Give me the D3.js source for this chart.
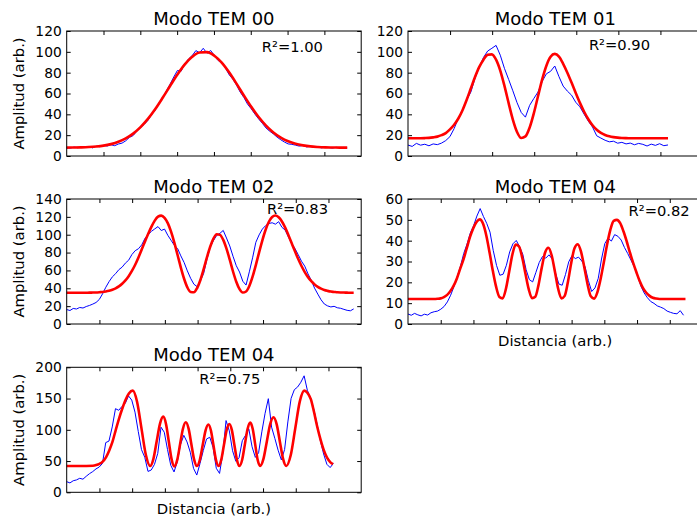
<!DOCTYPE html>
<html>
<head>
<meta charset="utf-8">
<script src="https://cdn.jsdelivr.net/npm/d3@7"></script>
<style>
  body { margin: 0; background: #fff; }
  svg { display: block; font-family: "DejaVu Sans", sans-serif; }
</style>
</head>
<body>
<div id="chart"></div>
<script>
// titles and fit scores
const titles = ["Modo TEM 00", "Modo TEM 01", "Modo TEM 02", "Modo TEM 04", "Modo TEM 04"];
const r2Labels = ["R²=1.00", "R²=0.90", "R²=0.83", "R²=0.82", "R²=0.75"];
const yLabel = "Amplitud (arb.)";
const xLabel = "Distancia (arb.)";

// y tick values per panel
const yTicks00 = [0, 20, 40, 60, 80, 100, 120];
const yTicks01 = [0, 20, 40, 60, 80, 100, 120];
const yTicks02 = [0, 20, 40, 60, 80, 100, 120, 140];
const yTicks04a = [0, 10, 20, 30, 40, 50, 60];
const yTicks04b = [0, 50, 100, 150, 200];

// measured profiles (blue) and fits (red), evenly spaced along x
const blue00 = [8.0, 7.5, 8.6, 7.9, 8.8, 8.2, 9.1, 7.8, 9.4, 8.9, 10.2, 9.6, 10.8, 9.9, 11.5, 12.4,
  14.6, 17.9, 19.6, 23.8, 27.1, 30.4, 34.2, 39.6, 44.1, 50.8, 55.7, 62.4, 68.9, 75.8, 82.1, 81.4,
  88.6, 93.1, 96.4, 101.2, 99.1, 103.4, 98.6, 101.3, 96.5, 91.7, 90.2, 84.6, 78.1, 73.8, 68.2,
  61.4, 56.2, 49.8, 45.3, 40.2, 35.6, 31.4, 26.9, 23.8, 21.2, 18.1, 15.6, 13.4, 11.6, 11.2, 10.4,
  9.5, 10.1, 8.7, 9.3, 8.4, 8.9, 7.8, 8.5, 8.1, 7.6, 8.4, 7.9, 8.2, 7.8];
const red00 = [8.07, 8.15, 8.3, 8.6, 9.1, 9.95, 11.4, 13.6, 16.9, 21.5, 27.7, 35.6, 45.1, 55.9,
  67.2, 78.2, 87.9, 95.2, 99.3, 99.7, 96.3, 89.6, 80.3, 69.5, 58.1, 47.2, 37.4, 29.2, 22.6, 17.7,
  14.1, 11.7, 10.2, 9.2, 8.65, 8.3, 8.17, 8.08, 8.04];

const blue01 = [10.5, 9.2, 12.1, 10.4, 11.3, 9.8, 11.6, 10.9, 12.4, 14.8, 18.6, 26.3, 36.1, 44.2,
  53.8, 61.5, 74.9, 85.3, 94.6, 100.8, 103.4, 106.2, 96.8, 84.1, 73.5, 62.6, 51.2, 41.8, 37.3,
  48.6, 55.2, 61.4, 71.6, 78.9, 81.3, 86.4, 76.2, 67.1, 62.3, 58.4, 51.6, 47.2, 40.1, 33.5, 27.8,
  19.4, 17.2, 15.1, 13.6, 14.2, 12.3, 13.1, 11.6, 12.4, 10.8, 12.1, 11.2, 9.6, 11.4, 10.2, 11.8,
  9.9, 10.6];
const red01 = [17.0, 17.0, 17.05, 17.1, 17.2, 17.4, 17.9, 18.6, 20.0, 22.0, 25.5, 30.0, 36.0, 44.0,
  54.0, 65.0, 76.0, 85.5, 92.5, 97.1, 97.6, 92.5, 82.0, 67.3, 50.7, 35.0, 23.1, 17.3, 18.8, 27.2,
  40.9, 57.3, 73.5, 86.7, 95.2, 98.0, 95.4, 88.5, 80.0, 70.5, 60.5, 51.0, 42.5, 35.3, 29.5, 25.2,
  22.2, 20.2, 18.9, 18.1, 17.6, 17.3, 17.15, 17.05, 17.0, 17.0, 17.0, 17.0, 17.0, 17.0, 17.0,
  17.0, 17.0];

const blue02 = [16.2, 15.1, 17.4, 16.8, 18.5, 17.9, 19.6, 20.8, 22.3, 24.1, 27.5, 33.8, 41.2, 47.5,
  52.8, 56.4, 60.9, 63.7, 68.2, 71.5, 77.8, 82.1, 84.3, 88.6, 95.9, 100.2, 103.8, 106.5, 109.1,
  104.7, 106.3, 99.4, 93.8, 88.2, 84.6, 76.3, 68.9, 59.5, 51.2, 44.6, 41.8, 48.3, 56.7, 72.4, 86.1,
  93.5, 99.2, 101.6, 104.8, 96.3, 87.4, 75.9, 65.3, 58.2, 47.9, 43.6, 58.4, 74.1, 91.5, 99.8,
  106.3, 110.2, 112.6, 113.4, 111.8, 114.6, 108.3, 105.1, 97.4, 90.2, 84.5, 77.6, 70.3, 64.8, 56.1,
  48.9, 40.2, 33.5, 27.1, 22.4, 20.3, 19.1, 19.8, 18.2, 17.6, 16.4, 15.3, 14.8, 16.9];
const red02 = [35.0, 35.0, 35.0, 35.0, 35.0, 35.0, 35.05, 35.1, 35.2, 35.35, 35.6, 35.9, 36.5, 37.3,
  38.4, 40.0, 42.1, 45.0, 48.8, 53.6, 59.4, 66.3, 74.5, 83.4, 92.4, 101.0, 109.0, 115.8, 120.2,
  121.4, 118.9, 113.0, 103.4, 91.2, 77.3, 63.2, 50.7, 41.0, 35.8, 35.5, 40.3, 49.3, 61.4, 74.5,
  86.5, 95.7, 100.5, 99.8, 94.2, 84.4, 72.0, 58.8, 47.3, 39.0, 35.2, 36.4, 42.6, 53.0, 66.0, 80.2,
  93.7, 105.5, 114.5, 119.9, 121.5, 119.5, 114.8, 107.9, 99.5, 90.4, 81.4, 72.7, 65.0, 58.2, 52.5,
  48.0, 44.4, 41.6, 39.6, 38.1, 37.1, 36.3, 35.9, 35.5, 35.3, 35.2, 35.1, 35.0, 35.0];

const blue04a = [4.8, 4.2, 5.1, 4.4, 3.9, 4.7, 4.3, 5.4, 5.9, 6.2, 7.1, 8.4, 10.6, 13.8, 17.9, 22.6,
  27.8, 33.9, 38.4, 43.7, 47.2, 51.8, 55.4, 51.6, 48.3, 44.1, 35.2, 28.1, 23.4, 23.9, 28.2, 34.6,
  38.5, 40.1, 37.2, 33.4, 26.1, 21.3, 20.2, 24.8, 29.5, 32.4, 31.6, 33.2, 31.1, 24.3, 19.2, 18.6,
  23.7, 29.8, 32.9, 31.4, 32.1, 30.2, 27.4, 20.8, 15.6, 17.3, 21.9, 31.2, 38.6, 41.2, 39.8, 42.9,
  42.1, 40.3, 36.7, 33.8, 30.6, 27.4, 23.1, 18.2, 14.9, 12.6, 10.8, 9.9, 8.7, 8.1, 7.4, 6.2, 5.6,
  5.1, 4.9, 6.4, 4.2];
const red04a = [12, 12, 12, 12, 12, 12, 12, 12, 12, 12.1, 12.3, 12.9, 14.0, 15.8, 18.4, 22.0, 26.6,
  31.0, 36.4, 41.8, 46.0, 49.0, 50.2, 48.1, 42.4, 34.2, 25.4, 17.8, 13.0, 12.3, 16.9, 25.2, 33.5,
  38.1, 37.2, 31.8, 24.0, 16.6, 12.4, 13.1, 18.9, 27.3, 34.3, 36.6, 33.0, 25.2, 16.9, 12.3, 13.5,
  20.3, 29.3, 36.4, 38.3, 34.7, 27.3, 19.1, 13.3, 12.2, 15.2, 21.6, 29.8, 38.3, 45.3, 49.5, 50.0,
  48.4, 44.5, 39.6, 34.2, 29.2, 24.7, 20.5, 17.2, 15.0, 13.5, 12.6, 12.2, 12.0, 12, 12, 12, 12, 12,
  12, 12, 12];

const blue04b = [17, 15, 18.5, 19.8, 22.4, 21, 25.6, 29.8, 33.1, 37.4, 40.5, 46.2, 79.5, 82, 104.6,
  133.8, 131.2, 137.5, 142.1, 154.2, 147.6, 128.3, 97.4, 68.2, 56.1, 33.4, 35.7, 44.8, 62.3, 104.2,
  96.1, 68.4, 43.2, 32.6, 48.7, 76.4, 91.2, 80.6, 64.1, 38.3, 27.6, 46.2, 66.8, 85.3, 88.1, 71.6,
  38.4, 30.2, 62.7, 114.8, 98.3, 66.5, 49.7, 55.4, 82.6, 91.3, 101.4, 72.8, 55.9, 63.2, 96.7,
  126.4, 149.8, 104.3, 86.2, 67.4, 51.8, 68.5, 112.6, 150.3, 164.2, 168.5, 176.1, 186.4, 163.2,
  150.7, 132.4, 108.6, 82.5, 61.3, 44.8, 39.6, 46.2];
// the last fit has uneven sample positions
const red04bX = [0, 4, 8, 9, 10, 11, 12, 13, 14, 15, 16, 17, 18, 19, 20.2, 21.5, 22.85, 24.2, 25.5,
  26.5, 27.5, 28.5, 29.5, 30.35, 31.2, 32.05, 32.9, 33.775, 34.65, 35.525, 36.4, 37.25, 38.1, 38.95,
  39.8, 40.675, 41.55, 42.425, 43.3, 44.075, 44.85, 45.625, 46.4, 47.225, 48.05, 48.875, 49.7,
  50.475, 51.25, 52.025, 52.8, 53.625, 54.45, 55.275, 56.1, 56.85, 57.6, 58.35, 59.1, 60.125,
  61.15, 62.175, 63.2, 64.175, 65.15, 66.125, 67.1, 68.475, 69.85, 71.225, 72.6, 73.6, 74.6, 75.6,
  76.6, 77.6, 78.6, 79.6, 80.6, 81.4];
const red04bY = [42, 42, 42.5, 43.5, 45.5, 49, 56, 67, 81, 100, 118, 134, 148, 158, 162.6, 145,
  102.3, 59.6, 42, 53.5, 81.5, 109.5, 121, 109.4, 81.2, 53.1, 41.5, 51.8, 76.8, 101.7, 112, 101.8,
  77, 52.2, 42, 51.7, 75.2, 98.8, 108.5, 98.8, 75.2, 51.7, 42, 51.8, 75.6, 99.5, 109.3, 99.5, 75.6,
  51.8, 42, 52.1, 76.7, 101.3, 111.4, 101.3, 76.7, 52.1, 42, 53.4, 81, 108.6, 120, 108.6, 81, 53.4,
  42, 59.6, 102.3, 145, 162.6, 159, 149, 128, 104, 84, 67, 55, 48, 45];

const W = 294.5, H = 125;

const panels = [
  { title: titles[0], r2: r2Labels[0], r2At: [53, 100], left: 66.7, top: 31, xMax: 80, yMax: 120, yTicks: yTicks00,
    blue: blue00, blueEnd: 76.2, red: red00, redEnd: 76.2, showY: true, showX: false },
  { title: titles[1], r2: r2Labels[1], r2At: [43, 102], left: 408, top: 31, xMax: 70, yMax: 120, yTicks: yTicks01,
    blue: blue01, blueEnd: 61.8, red: red01, redEnd: 61.8, showY: false, showX: false },
  { title: titles[2], r2: r2Labels[2], r2At: [61.2, 123], left: 66.7, top: 199, xMax: 90, yMax: 140, yTicks: yTicks02,
    blue: blue02, blueEnd: 87.7, red: red02, redEnd: 87.7, showY: true, showX: false },
  { title: titles[3], r2: r2Labels[3], r2At: [67.4, 51.8], left: 408, top: 199, xMax: 90, yMax: 60, yTicks: yTicks04a,
    blue: blue04a, blueEnd: 84.2, red: red04a, redEnd: 84.8, showY: false, showX: true },
  { title: titles[4], r2: r2Labels[4], r2At: [40.5, 172.8], left: 66.7, top: 367.3, xMax: 90, yMax: 200, yTicks: yTicks04b,
    blue: blue04b, blueEnd: 81.5, redX: red04bX, redY: red04bY, showY: true, showX: true }
];

const svg = d3.select("#chart").append("svg")
  .attr("width", 697)
  .attr("height", 518);

panels.forEach((p) => {
  const g = svg.append("g").attr("transform", `translate(${p.left},${p.top})`);

  const x = d3.scaleLinear().domain([0, p.xMax]).range([0, W]);
  const y = d3.scaleLinear().domain([0, p.yMax]).range([H, 0]);
  const xTicks = d3.range(10, p.xMax, 10);

  // evenly spaced samples -> [x, value]
  const spread = (arr, end) => arr.map((v, i) => [end * i / (arr.length - 1), v]);
  const bluePts = spread(p.blue, p.blueEnd);
  const redPts = p.redX ? p.redX.map((v, i) => [v, p.redY[i]]) : spread(p.red, p.redEnd);

  const blueLine = d3.line().x((d) => x(d[0])).y((d) => y(d[1]));
  const redLine = d3.line().x((d) => x(d[0])).y((d) => y(d[1])).curve(d3.curveMonotoneX);

  g.append("path").datum(bluePts)
    .attr("d", blueLine)
    .attr("fill", "none")
    .attr("stroke", "#0000ff")
    .attr("stroke-width", 1);

  g.append("path").datum(redPts)
    .attr("d", redLine)
    .attr("fill", "none")
    .attr("stroke", "#ff0000")
    .attr("stroke-width", 2.6)
    .attr("stroke-linejoin", "round");

  // ticks on all four sides, pointing inward
  const left = g.append("g").call(d3.axisLeft(y).tickValues(p.yTicks).tickSizeInner(-4).tickSizeOuter(0).tickPadding(5));
  const right = g.append("g").attr("transform", `translate(${W},0)`)
    .call(d3.axisRight(y).tickValues(p.yTicks).tickSizeInner(-4).tickSizeOuter(0).tickFormat(""));
  const bottom = g.append("g").attr("transform", `translate(0,${H})`)
    .call(d3.axisBottom(x).tickValues(xTicks).tickSizeInner(-4).tickSizeOuter(0).tickFormat(""));
  const top = g.append("g")
    .call(d3.axisTop(x).tickValues(xTicks).tickSizeInner(-4).tickSizeOuter(0).tickFormat(""));
  [left, right, bottom, top].forEach((a) => {
    a.select(".domain").remove();
    a.selectAll("line").attr("stroke", "#000");
  });
  left.selectAll("text")
    .attr("fill", "#000")
    .style("font-size", "13.8px")
    .style("font-family", "'DejaVu Sans', sans-serif");

  g.append("rect")
    .attr("width", W)
    .attr("height", H)
    .attr("fill", "none")
    .attr("stroke", "#000")
    .attr("stroke-width", 1);

  g.append("text")
    .attr("x", W / 2)
    .attr("y", -6.5)
    .attr("text-anchor", "middle")
    .style("font-size", "18px")
    .text(p.title);

  g.append("text")
    .attr("x", x(p.r2At[0]))
    .attr("y", y(p.r2At[1]))
    .style("font-size", "14.7px")
    .text(p.r2);

  if (p.showY) {
    g.append("text")
      .attr("transform", `translate(${24 - p.left},${H / 2}) rotate(-90)`)
      .attr("text-anchor", "middle")
      .style("font-size", "14.8px")
      .text(yLabel);
  }
  if (p.showX) {
    g.append("text")
      .attr("x", W / 2)
      .attr("y", H + 22)
      .attr("text-anchor", "middle")
      .style("font-size", "14.8px")
      .text(xLabel);
  }
});
</script>
</body>
</html>
